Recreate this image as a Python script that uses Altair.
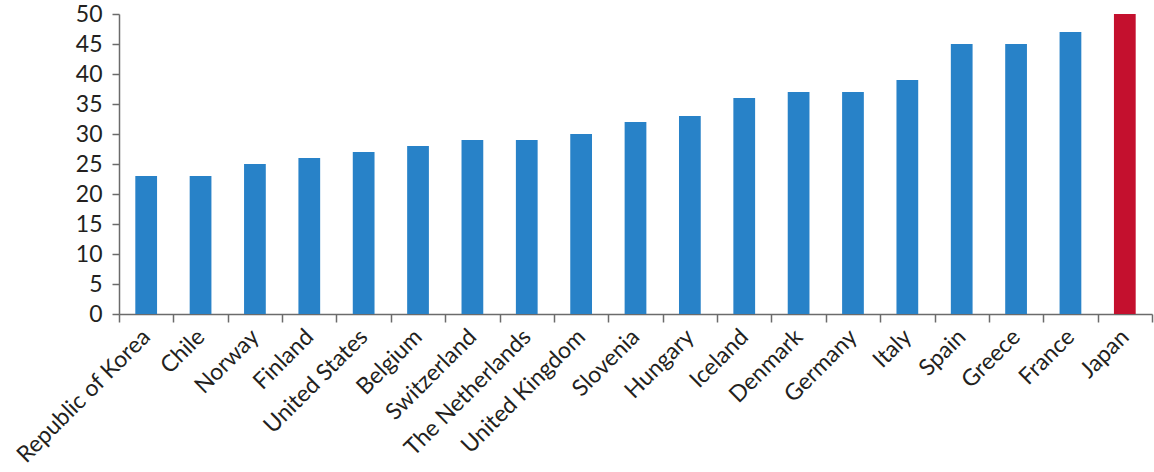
import altair as alt
import pandas as pd

countries = [
    "Republic of Korea", "Chile", "Norway", "Finland", "United States",
    "Belgium", "Switzerland", "The Netherlands", "United Kingdom", "Slovenia",
    "Hungary", "Iceland", "Denmark", "Germany", "Italy", "Spain", "Greece",
    "France", "Japan",
]
values = [23, 23, 25, 26, 27, 28, 29, 29, 30, 32, 33, 36, 37, 37, 39, 45, 45, 47, 50]
highlight = "Japan"

df = pd.DataFrame({"country": countries, "value": values})
df["group"] = ["highlight" if c == highlight else "other" for c in countries]

bars = alt.Chart(df).mark_bar(width=alt.RelativeBandSize(0.4)).encode(
    x=alt.X(
        "country:N",
        sort=countries,
        title=None,
        scale=alt.Scale(paddingInner=0, paddingOuter=0),
        axis=alt.Axis(
            labelAngle=-45,
            labelAlign="right",
            labelBaseline="middle",
            labelFont="Lato",
            labelFontSize=23,
            labelColor="#231F20",
            labelPadding=11,
            labelLimit=400,
            tickBand="extent",
            tickSize=8,
            tickColor="#6B6B6B",
            tickWidth=1.5,
            domainColor="#6B6B6B",
            domainWidth=1.5,
            grid=False,
        ),
    ),
    y=alt.Y(
        "value:Q",
        title=None,
        scale=alt.Scale(domain=[0, 50], nice=False),
        axis=alt.Axis(
            values=list(range(0, 51, 5)),
            labelFont="Lato",
            labelFontSize=23,
            labelColor="#231F20",
            labelPadding=10,
            tickSize=7,
            tickColor="#6B6B6B",
            tickWidth=1.5,
            domainColor="#6B6B6B",
            domainWidth=1.5,
            grid=False,
        ),
    ),
    color=alt.Color(
        "group:N",
        scale=alt.Scale(domain=["other", "highlight"], range=["#2882C8", "#C4102E"]),
        legend=None,
    ),
)

chart = bars.properties(
    width=1033,
    height=300,
    background="white",
    autosize=alt.AutoSizeParams(type="none"),
    padding={"left": 119, "top": 14, "right": 2, "bottom": 158},
).configure_view(strokeWidth=0, stroke=None)

chart.save("out.html", embed_options={"renderer": "svg", "actions": False})
